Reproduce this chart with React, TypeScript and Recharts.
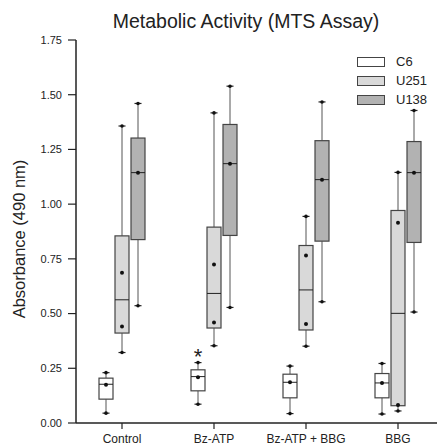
import React from 'react';
import { ComposedChart, Bar, XAxis, YAxis } from 'recharts';

const categories = ['Control', 'Bz-ATP', 'Bz-ATP + BBG', 'BBG'];
const seriesNames = ['C6', 'U251', 'U138'];
const seriesFills = ['#ffffff', '#d9d9d9', '#b2b2b2'];
const yTicks = [0, 0.25, 0.5, 0.75, 1.0, 1.25, 1.5, 1.75];

const c6Min = [0.045, 0.086, 0.043, 0.041];
const c6Q1 = [0.109, 0.147, 0.115, 0.115];
const c6Median = [0.177, 0.212, 0.186, 0.183];
const c6Q3 = [0.205, 0.243, 0.223, 0.226];
const c6Max = [0.23, 0.276, 0.26, 0.272];
const c6Dots = [[0.175], [0.209], [0.186], [0.183]];
const c6Marks = ['', '*', '', ''];

const u251Min = [0.322, 0.353, 0.351, 0.055];
const u251Q1 = [0.411, 0.434, 0.425, 0.079];
const u251Median = [0.563, 0.592, 0.608, 0.501];
const u251Q3 = [0.855, 0.895, 0.811, 0.971];
const u251Max = [1.357, 1.417, 0.944, 1.145];
const u251Dots = [[0.686, 0.441], [0.724, 0.459], [0.765, 0.452], [0.915, 0.082]];

const u138Min = [0.536, 0.528, 0.554, 0.507];
const u138Q1 = [0.838, 0.857, 0.831, 0.825];
const u138Median = [1.144, 1.185, 1.112, 1.144];
const u138Q3 = [1.302, 1.364, 1.29, 1.286];
const u138Max = [1.46, 1.539, 1.467, 1.428];
const u138Dots = [[1.144], [1.185], [1.112], [1.144]];

type Stats = {
  min: number[]; q1: number[]; median: number[]; q3: number[]; max: number[];
  dots: number[][]; marks?: string[];
};

const c6Stats: Stats = { min: c6Min, q1: c6Q1, median: c6Median, q3: c6Q3, max: c6Max, dots: c6Dots, marks: c6Marks };
const u251Stats: Stats = { min: u251Min, q1: u251Q1, median: u251Median, q3: u251Q3, max: u251Max, dots: u251Dots };
const u138Stats: Stats = { min: u138Min, q1: u138Q1, median: u138Median, q3: u138Q3, max: u138Max, dots: u138Dots };

const data = categories.map((name, i) => ({
  name,
  c6: [c6Min[i], c6Max[i]],
  u251: [u251Min[i], u251Max[i]],
  u138: [u138Min[i], u138Max[i]],
}));

const FONT = 'Arial, "Liberation Sans", Helvetica, sans-serif';
const AXIS = '#222';
const BOX_STROKE = '#444';
const WHISKER = '#555';

const makeShape = (s: Stats, fill: string) => (props: any) => {
  const { x, y, width, height, index } = props;
  if (x == null || y == null) return <g />;
  const top = Math.min(y, y + height);
  const bottom = Math.max(y, y + height);
  const vmin = s.min[index];
  const vmax = s.max[index];
  const px = (v: number) => top + ((vmax - v) / (vmax - vmin)) * (bottom - top);
  const cx = x + width / 2;
  const yq1 = px(s.q1[index]);
  const yq3 = px(s.q3[index]);
  const ymed = px(s.median[index]);
  const capHalf = 3.5;
  const mark = s.marks ? s.marks[index] : '';
  return (
    <g>
      <line x1={cx} x2={cx} y1={top} y2={yq3} stroke={WHISKER} strokeWidth={1} />
      <line x1={cx} x2={cx} y1={yq1} y2={bottom} stroke={WHISKER} strokeWidth={1} />
      <line x1={cx - capHalf} x2={cx + capHalf} y1={top} y2={top} stroke="#222" strokeWidth={1.2} />
      <line x1={cx - capHalf} x2={cx + capHalf} y1={bottom} y2={bottom} stroke="#222" strokeWidth={1.2} />
      <circle cx={cx} cy={top} r={1.8} fill="#111" />
      <circle cx={cx} cy={bottom} r={1.8} fill="#111" />
      <rect x={x} y={yq3} width={width} height={yq1 - yq3} fill={fill} stroke={BOX_STROKE} strokeWidth={1.2} />
      <line x1={x} x2={x + width} y1={ymed} y2={ymed} stroke="#222" strokeWidth={1} />
      {s.dots[index].map((d, k) => (
        <circle key={k} cx={cx} cy={px(d)} r={2} fill="#111" />
      ))}
      {mark ? (
        <text x={cx} y={top + 1} textAnchor="middle" fontSize={22} fontFamily={FONT} fill="#222" stroke="none">
          {mark}
        </text>
      ) : null}
    </g>
  );
};

const statsList = [c6Stats, u251Stats, u138Stats];
const keys = ['c6', 'u251', 'u138'];

export default function App() {
  return (
    <div style={{ position: 'absolute', left: 0, top: 0, width: 437, height: 446, overflow: 'hidden', background: '#fff' }}>
      <div
        style={{
          position: 'absolute', left: 0, top: 10, width: 492, textAlign: 'center',
          fontFamily: FONT, fontSize: 19.5, lineHeight: '22px', color: '#222',
        }}
      >
        Metabolic Activity (MTS Assay)
      </div>
      <div style={{ position: 'absolute', left: 357, top: 52, fontFamily: FONT, fontSize: 13, color: '#222' }}>
        {seriesNames.map((n, i) => (
          <div key={n} style={{ display: 'flex', alignItems: 'center', height: 19 }}>
            <div style={{ width: 26, height: 8, background: seriesFills[i], border: `1px solid ${BOX_STROKE}` }} />
            <span style={{ marginLeft: 11, lineHeight: '15px' }}>{n}</span>
          </div>
        ))}
      </div>
      <ComposedChart
        width={444}
        height={446}
        data={data}
        margin={{ top: 40, right: 0, bottom: 0, left: 0 }}
        barGap={2}
        style={{ position: 'absolute', left: 0, top: 0 }}
      >
        <XAxis
          dataKey="name"
          interval={0}
          height={23}
          tickSize={6}
          tickMargin={5}
          axisLine={{ stroke: AXIS, strokeWidth: 1.5 }}
          tickLine={{ stroke: AXIS, strokeWidth: 1.2 }}
          tick={{ fontSize: 12, fontFamily: FONT, fill: '#222' }}
        />
        <XAxis
          xAxisId="top"
          dataKey="name"
          orientation="top"
          height={0}
          tick={false}
          tickLine={false}
          axisLine={{ stroke: AXIS, strokeWidth: 1.5 }}
        />
        <YAxis
          width={76}
          domain={[0, 1.75]}
          ticks={yTicks}
          interval={0}
          tickSize={8}
          tickMargin={6}
          tickFormatter={(v: number) => v.toFixed(2)}
          axisLine={{ stroke: AXIS, strokeWidth: 1.5 }}
          tickLine={{ stroke: AXIS, strokeWidth: 1.2 }}
          tick={{ fontSize: 11, fontFamily: FONT, fill: '#222' }}
          label={{
            content: () => (
              <text
                x={19}
                y={239}
                transform="rotate(-90 19 239)"
                textAnchor="middle"
                dominantBaseline="central"
                fontSize={16.5}
                fontFamily={FONT}
                fill="#222"
              >
                Absorbance (490 nm)
              </text>
            ),
          }}
        />
        {keys.map((k, i) => (
          <Bar
            key={k}
            dataKey={k}
            name={seriesNames[i]}
            fill={seriesFills[i]}
            barSize={14}
            isAnimationActive={false}
            shape={makeShape(statsList[i], seriesFills[i])}
          />
        ))}
      </ComposedChart>
    </div>
  );
}
